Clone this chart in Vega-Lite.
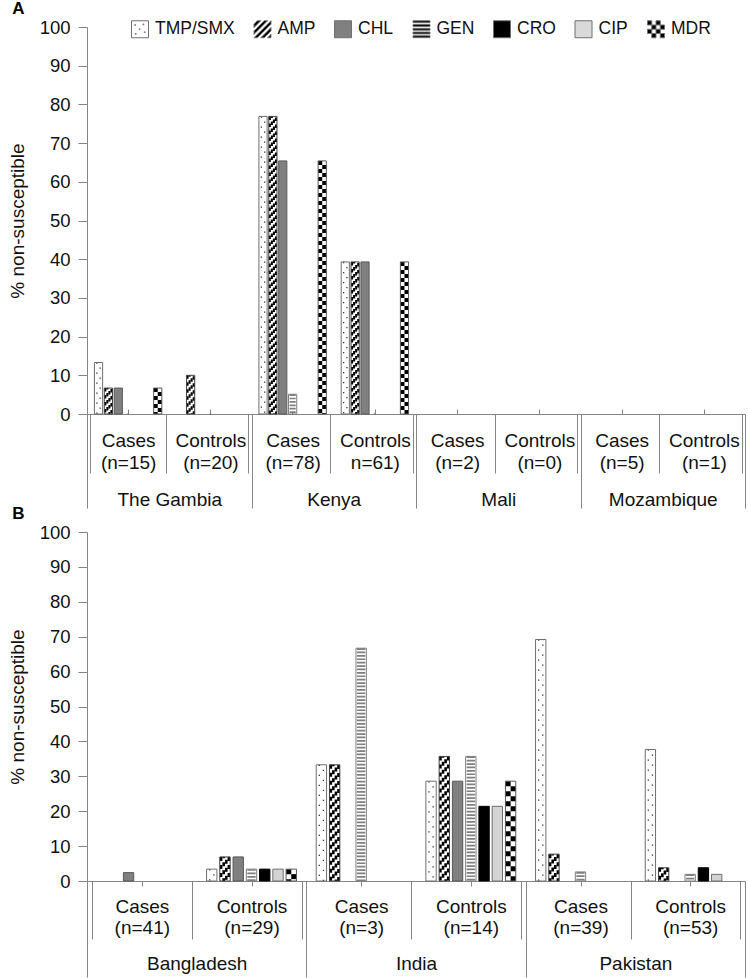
{
  "$schema": "https://vega.github.io/schema/vega-lite/v6.json",
  "padding": {"left": 8, "top": 0, "right": 0, "bottom": 0},
  "config": {"font": "Liberation Sans", "view": {"stroke": null}, "axis": {"grid": false, "labelColor": "#111111", "titleColor": "#111111"}},
  "spacing": -4,
  "datasets": {
    "a": [
      {"country": "The Gambia", "group": "Cases|(n=15)", "ab": "TMP/SMX", "pct": 13.3},
      {"country": "The Gambia", "group": "Cases|(n=15)", "ab": "AMP", "pct": 6.7},
      {"country": "The Gambia", "group": "Cases|(n=15)", "ab": "CHL", "pct": 6.7},
      {"country": "The Gambia", "group": "Cases|(n=15)", "ab": "GEN", "pct": 0},
      {"country": "The Gambia", "group": "Cases|(n=15)", "ab": "CRO", "pct": 0},
      {"country": "The Gambia", "group": "Cases|(n=15)", "ab": "CIP", "pct": 0},
      {"country": "The Gambia", "group": "Cases|(n=15)", "ab": "MDR", "pct": 6.7},
      {"country": "The Gambia", "group": "Controls|(n=20)", "ab": "TMP/SMX", "pct": 0},
      {"country": "The Gambia", "group": "Controls|(n=20)", "ab": "AMP", "pct": 10},
      {"country": "The Gambia", "group": "Controls|(n=20)", "ab": "CHL", "pct": 0},
      {"country": "The Gambia", "group": "Controls|(n=20)", "ab": "GEN", "pct": 0},
      {"country": "The Gambia", "group": "Controls|(n=20)", "ab": "CRO", "pct": 0},
      {"country": "The Gambia", "group": "Controls|(n=20)", "ab": "CIP", "pct": 0},
      {"country": "The Gambia", "group": "Controls|(n=20)", "ab": "MDR", "pct": 0},
      {"country": "Kenya", "group": "Cases|(n=78)", "ab": "TMP/SMX", "pct": 76.9},
      {"country": "Kenya", "group": "Cases|(n=78)", "ab": "AMP", "pct": 76.9},
      {"country": "Kenya", "group": "Cases|(n=78)", "ab": "CHL", "pct": 65.4},
      {"country": "Kenya", "group": "Cases|(n=78)", "ab": "GEN", "pct": 5.1},
      {"country": "Kenya", "group": "Cases|(n=78)", "ab": "CRO", "pct": 0},
      {"country": "Kenya", "group": "Cases|(n=78)", "ab": "CIP", "pct": 0},
      {"country": "Kenya", "group": "Cases|(n=78)", "ab": "MDR", "pct": 65.4},
      {"country": "Kenya", "group": "Controls|n=61)", "ab": "TMP/SMX", "pct": 39.3},
      {"country": "Kenya", "group": "Controls|n=61)", "ab": "AMP", "pct": 39.3},
      {"country": "Kenya", "group": "Controls|n=61)", "ab": "CHL", "pct": 39.3},
      {"country": "Kenya", "group": "Controls|n=61)", "ab": "GEN", "pct": 0},
      {"country": "Kenya", "group": "Controls|n=61)", "ab": "CRO", "pct": 0},
      {"country": "Kenya", "group": "Controls|n=61)", "ab": "CIP", "pct": 0},
      {"country": "Kenya", "group": "Controls|n=61)", "ab": "MDR", "pct": 39.3},
      {"country": "Mali", "group": "Cases|(n=2)", "ab": "TMP/SMX", "pct": 0},
      {"country": "Mali", "group": "Cases|(n=2)", "ab": "AMP", "pct": 0},
      {"country": "Mali", "group": "Cases|(n=2)", "ab": "CHL", "pct": 0},
      {"country": "Mali", "group": "Cases|(n=2)", "ab": "GEN", "pct": 0},
      {"country": "Mali", "group": "Cases|(n=2)", "ab": "CRO", "pct": 0},
      {"country": "Mali", "group": "Cases|(n=2)", "ab": "CIP", "pct": 0},
      {"country": "Mali", "group": "Cases|(n=2)", "ab": "MDR", "pct": 0},
      {"country": "Mali", "group": "Controls|(n=0)", "ab": "TMP/SMX", "pct": 0},
      {"country": "Mali", "group": "Controls|(n=0)", "ab": "AMP", "pct": 0},
      {"country": "Mali", "group": "Controls|(n=0)", "ab": "CHL", "pct": 0},
      {"country": "Mali", "group": "Controls|(n=0)", "ab": "GEN", "pct": 0},
      {"country": "Mali", "group": "Controls|(n=0)", "ab": "CRO", "pct": 0},
      {"country": "Mali", "group": "Controls|(n=0)", "ab": "CIP", "pct": 0},
      {"country": "Mali", "group": "Controls|(n=0)", "ab": "MDR", "pct": 0},
      {"country": "Mozambique", "group": "Cases|(n=5)", "ab": "TMP/SMX", "pct": 0},
      {"country": "Mozambique", "group": "Cases|(n=5)", "ab": "AMP", "pct": 0},
      {"country": "Mozambique", "group": "Cases|(n=5)", "ab": "CHL", "pct": 0},
      {"country": "Mozambique", "group": "Cases|(n=5)", "ab": "GEN", "pct": 0},
      {"country": "Mozambique", "group": "Cases|(n=5)", "ab": "CRO", "pct": 0},
      {"country": "Mozambique", "group": "Cases|(n=5)", "ab": "CIP", "pct": 0},
      {"country": "Mozambique", "group": "Cases|(n=5)", "ab": "MDR", "pct": 0},
      {"country": "Mozambique", "group": "Controls|(n=1)", "ab": "TMP/SMX", "pct": 0},
      {"country": "Mozambique", "group": "Controls|(n=1)", "ab": "AMP", "pct": 0},
      {"country": "Mozambique", "group": "Controls|(n=1)", "ab": "CHL", "pct": 0},
      {"country": "Mozambique", "group": "Controls|(n=1)", "ab": "GEN", "pct": 0},
      {"country": "Mozambique", "group": "Controls|(n=1)", "ab": "CRO", "pct": 0},
      {"country": "Mozambique", "group": "Controls|(n=1)", "ab": "CIP", "pct": 0},
      {"country": "Mozambique", "group": "Controls|(n=1)", "ab": "MDR", "pct": 0}
    ],
    "b": [
      {"country": "Bangladesh", "group": "Cases|(n=41)", "ab": "TMP/SMX", "pct": 0},
      {"country": "Bangladesh", "group": "Cases|(n=41)", "ab": "AMP", "pct": 0},
      {"country": "Bangladesh", "group": "Cases|(n=41)", "ab": "CHL", "pct": 2.4},
      {"country": "Bangladesh", "group": "Cases|(n=41)", "ab": "GEN", "pct": 0},
      {"country": "Bangladesh", "group": "Cases|(n=41)", "ab": "CRO", "pct": 0},
      {"country": "Bangladesh", "group": "Cases|(n=41)", "ab": "CIP", "pct": 0},
      {"country": "Bangladesh", "group": "Cases|(n=41)", "ab": "MDR", "pct": 0},
      {"country": "Bangladesh", "group": "Controls|(n=29)", "ab": "TMP/SMX", "pct": 3.4},
      {"country": "Bangladesh", "group": "Controls|(n=29)", "ab": "AMP", "pct": 6.9},
      {"country": "Bangladesh", "group": "Controls|(n=29)", "ab": "CHL", "pct": 6.9},
      {"country": "Bangladesh", "group": "Controls|(n=29)", "ab": "GEN", "pct": 3.4},
      {"country": "Bangladesh", "group": "Controls|(n=29)", "ab": "CRO", "pct": 3.4},
      {"country": "Bangladesh", "group": "Controls|(n=29)", "ab": "CIP", "pct": 3.4},
      {"country": "Bangladesh", "group": "Controls|(n=29)", "ab": "MDR", "pct": 3.4},
      {"country": "India", "group": "Cases|(n=3)", "ab": "TMP/SMX", "pct": 33.3},
      {"country": "India", "group": "Cases|(n=3)", "ab": "AMP", "pct": 33.3},
      {"country": "India", "group": "Cases|(n=3)", "ab": "CHL", "pct": 0},
      {"country": "India", "group": "Cases|(n=3)", "ab": "GEN", "pct": 66.7},
      {"country": "India", "group": "Cases|(n=3)", "ab": "CRO", "pct": 0},
      {"country": "India", "group": "Cases|(n=3)", "ab": "CIP", "pct": 0},
      {"country": "India", "group": "Cases|(n=3)", "ab": "MDR", "pct": 0},
      {"country": "India", "group": "Controls|(n=14)", "ab": "TMP/SMX", "pct": 28.6},
      {"country": "India", "group": "Controls|(n=14)", "ab": "AMP", "pct": 35.7},
      {"country": "India", "group": "Controls|(n=14)", "ab": "CHL", "pct": 28.6},
      {"country": "India", "group": "Controls|(n=14)", "ab": "GEN", "pct": 35.7},
      {"country": "India", "group": "Controls|(n=14)", "ab": "CRO", "pct": 21.4},
      {"country": "India", "group": "Controls|(n=14)", "ab": "CIP", "pct": 21.4},
      {"country": "India", "group": "Controls|(n=14)", "ab": "MDR", "pct": 28.6},
      {"country": "Pakistan", "group": "Cases|(n=39)", "ab": "TMP/SMX", "pct": 69.2},
      {"country": "Pakistan", "group": "Cases|(n=39)", "ab": "AMP", "pct": 7.7},
      {"country": "Pakistan", "group": "Cases|(n=39)", "ab": "CHL", "pct": 0},
      {"country": "Pakistan", "group": "Cases|(n=39)", "ab": "GEN", "pct": 2.6},
      {"country": "Pakistan", "group": "Cases|(n=39)", "ab": "CRO", "pct": 0},
      {"country": "Pakistan", "group": "Cases|(n=39)", "ab": "CIP", "pct": 0},
      {"country": "Pakistan", "group": "Cases|(n=39)", "ab": "MDR", "pct": 0},
      {"country": "Pakistan", "group": "Controls|(n=53)", "ab": "TMP/SMX", "pct": 37.7},
      {"country": "Pakistan", "group": "Controls|(n=53)", "ab": "AMP", "pct": 3.8},
      {"country": "Pakistan", "group": "Controls|(n=53)", "ab": "CHL", "pct": 0},
      {"country": "Pakistan", "group": "Controls|(n=53)", "ab": "GEN", "pct": 1.9},
      {"country": "Pakistan", "group": "Controls|(n=53)", "ab": "CRO", "pct": 3.8},
      {"country": "Pakistan", "group": "Controls|(n=53)", "ab": "CIP", "pct": 1.9},
      {"country": "Pakistan", "group": "Controls|(n=53)", "ab": "MDR", "pct": 0}
    ]
  },
  "vconcat": [
    {
      "title": {"text": "A", "anchor": "start", "frame": "bounds", "fontSize": 17, "fontWeight": "bold", "offset": 0, "dx": 4, "color": "#000000"},
      "data": {"name": "a"},
      "transform": [{"filter": "datum.pct > 0"}],
      "width": 658,
      "height": 387,
      "encoding": {
        "x": {"field": "group", "type": "nominal", "title": null, "axis": null,
          "scale": {"domain": ["Cases|(n=15)", "Controls|(n=20)", "Cases|(n=78)", "Controls|n=61)", "Cases|(n=2)", "Controls|(n=0)", "Cases|(n=5)", "Controls|(n=1)"], "paddingInner": 0.0845, "paddingOuter": 0.04225}},
        "y": {"field": "pct", "type": "quantitative", "title": "% non-susceptible",
          "scale": {"domain": [0, 100], "nice": false},
          "axis": {"values": [0, 10, 20, 30, 40, 50, 60, 70, 80, 90, 100], "tickSize": 9, "labelPadding": 8, "labelFontSize": 18.5, "titleFontSize": 19, "titleFontWeight": "normal", "titlePadding": 12, "domainColor": "#868686", "tickColor": "#868686"}}
      },
      "layer": [
        {"mark": {"type": "bar"},
         "encoding": {
           "x": {"field": "group", "type": "nominal", "title": null,
             "scale": {"domain": ["Cases|(n=15)", "Controls|(n=20)", "Cases|(n=78)", "Controls|n=61)", "Cases|(n=2)", "Controls|(n=0)", "Cases|(n=5)", "Controls|(n=1)"], "paddingInner": 0.0845, "paddingOuter": 0.04225},
             "axis": {"orient": "bottom", "tickBand": "extent", "tickSize": 59, "tickColor": "#868686", "domainColor": "#868686", "labelPadding": -27, "labelExpr": "split(datum.label, '|')", "labelBaseline": "alphabetic", "labelLineHeight": 22, "labelFontSize": 19, "labelAngle": 0, "labelOverlap": false}},
           "xOffset": {"field": "ab", "type": "nominal", "scale": {"domain": ["TMP/SMX", "AMP", "CHL", "GEN", "CRO", "CIP", "MDR"], "paddingInner": 0.17, "paddingOuter": 0.4, "align": 0.5}},
           "fill": {"field": "ab", "type": "nominal", "scale": {"domain": ["MDR", "CIP", "CRO", "GEN", "CHL", "AMP", "TMP/SMX"], "range": ["#ffffff", "#d4d4d4", "#000000", "#ffffff", "#808080", "#ffffff", "#ffffff"]}, "legend": null}}},
        {"transform": [{"filter": "datum.ab == 'TMP/SMX'"}],
         "mark": {"type": "rule", "color": "#333333", "strokeWidth": 1.3, "strokeDash": [1.3, 8.7]},
         "encoding": {"xOffset": {"field": "ab", "type": "nominal", "scale": {"domain": ["TMP/SMX", "AMP", "CHL", "GEN", "CRO", "CIP", "MDR"], "paddingInner": 0.17, "paddingOuter": 0.4, "align": 0.292}}, "y2": {"datum": 0}}},
        {"transform": [{"filter": "datum.ab == 'TMP/SMX'"}],
         "mark": {"type": "rule", "color": "#333333", "strokeWidth": 1.3, "strokeDash": [1.3, 8.7], "strokeDashOffset": 5},
         "encoding": {"xOffset": {"field": "ab", "type": "nominal", "scale": {"domain": ["TMP/SMX", "AMP", "CHL", "GEN", "CRO", "CIP", "MDR"], "paddingInner": 0.17, "paddingOuter": 0.4, "align": 0.708}}, "y2": {"datum": 0}}},
        {"transform": [{"filter": "datum.ab == 'GEN'"}],
         "mark": {"type": "rule", "color": "#7f7f7f", "strokeWidth": 6.2, "strokeDash": [1.7, 1.7]},
         "encoding": {"xOffset": {"field": "ab", "type": "nominal", "scale": {"domain": ["TMP/SMX", "AMP", "CHL", "GEN", "CRO", "CIP", "MDR"], "paddingInner": 0.17, "paddingOuter": 0.4, "align": 0.5}}, "y2": {"datum": 0}}},
        {"transform": [{"filter": "datum.ab == 'MDR'"}],
         "mark": {"type": "rule", "color": "#000000", "strokeWidth": 4.1, "strokeDash": [4, 4]},
         "encoding": {"xOffset": {"field": "ab", "type": "nominal", "scale": {"domain": ["TMP/SMX", "AMP", "CHL", "GEN", "CRO", "CIP", "MDR"], "paddingInner": 0.17, "paddingOuter": 0.4, "align": 0.24}}, "y2": {"datum": 0}}},
        {"transform": [{"filter": "datum.ab == 'MDR'"}],
         "mark": {"type": "rule", "color": "#000000", "strokeWidth": 4.1, "strokeDash": [4, 4], "strokeDashOffset": 4},
         "encoding": {"xOffset": {"field": "ab", "type": "nominal", "scale": {"domain": ["TMP/SMX", "AMP", "CHL", "GEN", "CRO", "CIP", "MDR"], "paddingInner": 0.17, "paddingOuter": 0.4, "align": 0.76}}, "y2": {"datum": 0}}},
        {"transform": [{"filter": "datum.ab == 'AMP'"}],
         "mark": {"type": "rule", "color": "#000000", "strokeWidth": 2.05, "strokeDash": [3.5, 3.5], "strokeDashOffset": 0},
         "encoding": {"xOffset": {"field": "ab", "type": "nominal", "scale": {"domain": ["TMP/SMX", "AMP", "CHL", "GEN", "CRO", "CIP", "MDR"], "paddingInner": 0.17, "paddingOuter": 0.4, "align": 0.111}}, "y2": {"datum": 0}}},
        {"transform": [{"filter": "datum.ab == 'AMP'"}],
         "mark": {"type": "rule", "color": "#000000", "strokeWidth": 2.05, "strokeDash": [3.5, 3.5], "strokeDashOffset": 2},
         "encoding": {"xOffset": {"field": "ab", "type": "nominal", "scale": {"domain": ["TMP/SMX", "AMP", "CHL", "GEN", "CRO", "CIP", "MDR"], "paddingInner": 0.17, "paddingOuter": 0.4, "align": 0.37}}, "y2": {"datum": 0}}},
        {"transform": [{"filter": "datum.ab == 'AMP'"}],
         "mark": {"type": "rule", "color": "#000000", "strokeWidth": 2.05, "strokeDash": [3.5, 3.5], "strokeDashOffset": 4},
         "encoding": {"xOffset": {"field": "ab", "type": "nominal", "scale": {"domain": ["TMP/SMX", "AMP", "CHL", "GEN", "CRO", "CIP", "MDR"], "paddingInner": 0.17, "paddingOuter": 0.4, "align": 0.63}}, "y2": {"datum": 0}}},
        {"transform": [{"filter": "datum.ab == 'AMP'"}],
         "mark": {"type": "rule", "color": "#000000", "strokeWidth": 2.05, "strokeDash": [3.5, 3.5], "strokeDashOffset": 6},
         "encoding": {"xOffset": {"field": "ab", "type": "nominal", "scale": {"domain": ["TMP/SMX", "AMP", "CHL", "GEN", "CRO", "CIP", "MDR"], "paddingInner": 0.17, "paddingOuter": 0.4, "align": 0.889}}, "y2": {"datum": 0}}},
        {"mark": {"type": "bar", "fillOpacity": 0, "strokeWidth": 1},
         "encoding": {
           "xOffset": {"field": "ab", "type": "nominal", "scale": {"domain": ["TMP/SMX", "AMP", "CHL", "GEN", "CRO", "CIP", "MDR"], "paddingInner": 0.17, "paddingOuter": 0.4, "align": 0.5}},
           "stroke": {"field": "ab", "type": "nominal", "scale": {"domain": ["CHL", "TMP/SMX", "AMP", "GEN", "CRO", "CIP", "MDR"], "range": ["#595959", "#6e6e6e", "#404040", "#7f7f7f", "#000000", "#6e6e6e", "#595959"]}, "legend": null}}},
        {"mark": {"type": "point", "filled": true, "size": 1, "opacity": 1},
         "encoding": {
           "y": {"datum": 0, "type": "quantitative"},
           "color": {"field": "ab", "type": "nominal", "title": null,
             "scale": {"domain": ["TMP/SMX", "AMP", "CHL", "GEN", "CRO", "CIP", "MDR"], "range": ["#ffffff", "#000000", "#808080", "#000000", "#000000", "#d9d9d9", "#000000"]},
             "legend": {"orient": "none", "legendX": 44, "legendY": -7, "direction": "horizontal", "columns": 7, "title": null, "labelFontSize": 17.5, "labelOffset": 6, "columnPadding": 16.5, "symbolSize": 289, "symbolStrokeWidth": 1, "symbolStrokeColor": "#707070", "labelColor": "#111111"}},
           "shape": {"field": "ab", "type": "nominal", "title": null,
             "scale": {"domain": ["TMP/SMX", "AMP", "CHL", "GEN", "CRO", "CIP", "MDR"], "range": [
               "M-1,-1H1V1H-1Z M-0.62,-0.55h0.1v0.1h-0.1Z M0.35,-0.62h0.1v0.1h-0.1Z M-0.1,-0.05h0.1v0.1h-0.1Z M0.5,0.3h0.1v0.1h-0.1Z M-0.55,0.5h0.1v0.1h-0.1Z",
               "M-1,-0.6L-0.6,-1L-0.2,-1L-1,-0.2Z M-1,0.2L0.2,-1L0.6,-1L-1,0.6Z M-1,1L1,-1L1,-0.6L-0.6,1Z M-0.2,1L1,-0.2L1,0.2L0.2,1Z M0.6,1L1,0.6L1,1Z",
               "M-1,-1H1V1H-1Z",
               "M-1,-1H1V-0.78H-1Z M-1,-0.56H1V-0.34H-1Z M-1,-0.12H1V0.1H-1Z M-1,0.32H1V0.54H-1Z M-1,0.76H1V0.98H-1Z",
               "M-1,-1H1V1H-1Z",
               "M-1,-1H1V1H-1Z",
               "M-1,-1h0.5v0.5h-0.5Z M0,-1h0.5v0.5h-0.5Z M-0.5,-0.5h0.5v0.5h-0.5Z M0.5,-0.5h0.5v0.5h-0.5Z M-1,0h0.5v0.5h-0.5Z M0,0h0.5v0.5h-0.5Z M-0.5,0.5h0.5v0.5h-0.5Z M0.5,0.5h0.5v0.5h-0.5Z"
             ]}}}},
        {"mark": {"type": "point", "opacity": 0},
         "encoding": {
           "x": {"field": "country", "type": "nominal", "title": null,
             "scale": {"domain": ["The Gambia", "Kenya", "Mali", "Mozambique"], "paddingInner": 0, "paddingOuter": 0},
             "axis": {"orient": "bottom", "tickBand": "extent", "tickSize": 94, "tickColor": "#868686", "domain": false, "labelPadding": -3, "labelBaseline": "alphabetic", "labelFontSize": 19, "labelAngle": 0, "labelOverlap": false}}}},
        {"mark": {"type": "point", "opacity": 0},
         "encoding": {
           "x": {"field": "group", "type": "nominal", "title": null,
             "scale": {"domain": ["Cases|(n=15)", "Controls|(n=20)", "Cases|(n=78)", "Controls|n=61)", "Cases|(n=2)", "Controls|(n=0)", "Cases|(n=5)", "Controls|(n=1)"]},
             "axis": {"orient": "bottom", "tickSize": -5, "tickColor": "#868686", "domain": false, "labels": false}}}}
      ],
      "resolve": {"scale": {"x": "independent", "xOffset": "independent"}, "axis": {"x": "independent"}}
    },
    {
      "title": {"text": "B", "anchor": "start", "frame": "bounds", "fontSize": 17, "fontWeight": "bold", "offset": 0, "dx": 4, "color": "#000000"},
      "data": {"name": "b"},
      "transform": [{"filter": "datum.pct > 0"}],
      "width": 658,
      "height": 349,
      "encoding": {
        "x": {"field": "group", "type": "nominal", "title": null, "axis": null,
          "scale": {"domain": ["Cases|(n=41)", "Controls|(n=29)", "Cases|(n=3)", "Controls|(n=14)", "Cases|(n=39)", "Controls|(n=53)"], "paddingInner": 0.0836, "paddingOuter": 0.0418}},
        "y": {"field": "pct", "type": "quantitative", "title": "% non-susceptible",
          "scale": {"domain": [0, 100], "nice": false},
          "axis": {"values": [0, 10, 20, 30, 40, 50, 60, 70, 80, 90, 100], "tickSize": 9, "labelPadding": 8, "labelFontSize": 18.5, "titleFontSize": 19, "titleFontWeight": "normal", "titlePadding": 12, "domainColor": "#868686", "tickColor": "#868686"}}
      },
      "layer": [
        {"mark": {"type": "bar"},
         "encoding": {
           "x": {"field": "group", "type": "nominal", "title": null,
             "scale": {"domain": ["Cases|(n=41)", "Controls|(n=29)", "Cases|(n=3)", "Controls|(n=14)", "Cases|(n=39)", "Controls|(n=53)"], "paddingInner": 0.0836, "paddingOuter": 0.0418},
             "axis": {"orient": "bottom", "tickBand": "extent", "tickSize": 58, "tickColor": "#868686", "domainColor": "#868686", "labelPadding": -27, "labelExpr": "split(datum.label, '|')", "labelBaseline": "alphabetic", "labelLineHeight": 21, "labelFontSize": 19, "labelAngle": 0, "labelOverlap": false}},
           "xOffset": {"field": "ab", "type": "nominal", "scale": {"domain": ["TMP/SMX", "AMP", "CHL", "GEN", "CRO", "CIP", "MDR"], "paddingInner": 0.22, "paddingOuter": 0.4, "align": 0.5}},
           "fill": {"field": "ab", "type": "nominal", "scale": {"domain": ["MDR", "CIP", "CRO", "GEN", "CHL", "AMP", "TMP/SMX"], "range": ["#ffffff", "#d4d4d4", "#000000", "#ffffff", "#808080", "#ffffff", "#ffffff"]}, "legend": null}}},
        {"transform": [{"filter": "datum.ab == 'TMP/SMX'"}],
         "mark": {"type": "rule", "color": "#333333", "strokeWidth": 1.3, "strokeDash": [1.3, 8.7]},
         "encoding": {"xOffset": {"field": "ab", "type": "nominal", "scale": {"domain": ["TMP/SMX", "AMP", "CHL", "GEN", "CRO", "CIP", "MDR"], "paddingInner": 0.22, "paddingOuter": 0.4, "align": 0.305}}, "y2": {"datum": 0}}},
        {"transform": [{"filter": "datum.ab == 'TMP/SMX'"}],
         "mark": {"type": "rule", "color": "#333333", "strokeWidth": 1.3, "strokeDash": [1.3, 8.7], "strokeDashOffset": 5},
         "encoding": {"xOffset": {"field": "ab", "type": "nominal", "scale": {"domain": ["TMP/SMX", "AMP", "CHL", "GEN", "CRO", "CIP", "MDR"], "paddingInner": 0.22, "paddingOuter": 0.4, "align": 0.695}}, "y2": {"datum": 0}}},
        {"transform": [{"filter": "datum.ab == 'GEN'"}],
         "mark": {"type": "rule", "color": "#7f7f7f", "strokeWidth": 8.3, "strokeDash": [1.7, 1.7]},
         "encoding": {"xOffset": {"field": "ab", "type": "nominal", "scale": {"domain": ["TMP/SMX", "AMP", "CHL", "GEN", "CRO", "CIP", "MDR"], "paddingInner": 0.22, "paddingOuter": 0.4, "align": 0.5}}, "y2": {"datum": 0}}},
        {"transform": [{"filter": "datum.ab == 'MDR'"}],
         "mark": {"type": "rule", "color": "#000000", "strokeWidth": 5.2, "strokeDash": [5, 5]},
         "encoding": {"xOffset": {"field": "ab", "type": "nominal", "scale": {"domain": ["TMP/SMX", "AMP", "CHL", "GEN", "CRO", "CIP", "MDR"], "paddingInner": 0.22, "paddingOuter": 0.4, "align": 0.256}}, "y2": {"datum": 0}}},
        {"transform": [{"filter": "datum.ab == 'MDR'"}],
         "mark": {"type": "rule", "color": "#000000", "strokeWidth": 5.2, "strokeDash": [5, 5], "strokeDashOffset": 5},
         "encoding": {"xOffset": {"field": "ab", "type": "nominal", "scale": {"domain": ["TMP/SMX", "AMP", "CHL", "GEN", "CRO", "CIP", "MDR"], "paddingInner": 0.22, "paddingOuter": 0.4, "align": 0.744}}, "y2": {"datum": 0}}},
        {"transform": [{"filter": "datum.ab == 'AMP'"}],
         "mark": {"type": "rule", "color": "#000000", "strokeWidth": 2.6, "strokeDash": [4, 4], "strokeDashOffset": 0},
         "encoding": {"xOffset": {"field": "ab", "type": "nominal", "scale": {"domain": ["TMP/SMX", "AMP", "CHL", "GEN", "CRO", "CIP", "MDR"], "paddingInner": 0.22, "paddingOuter": 0.4, "align": 0.134}}, "y2": {"datum": 0}}},
        {"transform": [{"filter": "datum.ab == 'AMP'"}],
         "mark": {"type": "rule", "color": "#000000", "strokeWidth": 2.6, "strokeDash": [4, 4], "strokeDashOffset": 2.6},
         "encoding": {"xOffset": {"field": "ab", "type": "nominal", "scale": {"domain": ["TMP/SMX", "AMP", "CHL", "GEN", "CRO", "CIP", "MDR"], "paddingInner": 0.22, "paddingOuter": 0.4, "align": 0.378}}, "y2": {"datum": 0}}},
        {"transform": [{"filter": "datum.ab == 'AMP'"}],
         "mark": {"type": "rule", "color": "#000000", "strokeWidth": 2.6, "strokeDash": [4, 4], "strokeDashOffset": 5.2},
         "encoding": {"xOffset": {"field": "ab", "type": "nominal", "scale": {"domain": ["TMP/SMX", "AMP", "CHL", "GEN", "CRO", "CIP", "MDR"], "paddingInner": 0.22, "paddingOuter": 0.4, "align": 0.622}}, "y2": {"datum": 0}}},
        {"transform": [{"filter": "datum.ab == 'AMP'"}],
         "mark": {"type": "rule", "color": "#000000", "strokeWidth": 2.6, "strokeDash": [4, 4], "strokeDashOffset": 7.8},
         "encoding": {"xOffset": {"field": "ab", "type": "nominal", "scale": {"domain": ["TMP/SMX", "AMP", "CHL", "GEN", "CRO", "CIP", "MDR"], "paddingInner": 0.22, "paddingOuter": 0.4, "align": 0.866}}, "y2": {"datum": 0}}},
        {"mark": {"type": "bar", "fillOpacity": 0, "strokeWidth": 1},
         "encoding": {
           "xOffset": {"field": "ab", "type": "nominal", "scale": {"domain": ["TMP/SMX", "AMP", "CHL", "GEN", "CRO", "CIP", "MDR"], "paddingInner": 0.22, "paddingOuter": 0.4, "align": 0.5}},
           "stroke": {"field": "ab", "type": "nominal", "scale": {"domain": ["CHL", "TMP/SMX", "AMP", "GEN", "CRO", "CIP", "MDR"], "range": ["#595959", "#6e6e6e", "#404040", "#7f7f7f", "#000000", "#6e6e6e", "#595959"]}, "legend": null}}},
        {"mark": {"type": "point", "opacity": 0},
         "encoding": {
           "x": {"field": "country", "type": "nominal", "title": null,
             "scale": {"domain": ["Bangladesh", "India", "Pakistan"], "paddingInner": 0, "paddingOuter": 0},
             "axis": {"orient": "bottom", "tickBand": "extent", "tickSize": 96, "tickColor": "#868686", "domain": false, "labelPadding": -8, "labelBaseline": "alphabetic", "labelFontSize": 19, "labelAngle": 0, "labelOverlap": false}}}},
        {"mark": {"type": "point", "opacity": 0},
         "encoding": {
           "x": {"field": "group", "type": "nominal", "title": null,
             "scale": {"domain": ["Cases|(n=41)", "Controls|(n=29)", "Cases|(n=3)", "Controls|(n=14)", "Cases|(n=39)", "Controls|(n=53)"]},
             "axis": {"orient": "bottom", "tickSize": 5, "tickColor": "#868686", "domain": false, "labels": false}}}}
      ],
      "resolve": {"scale": {"x": "independent", "xOffset": "independent"}, "axis": {"x": "independent"}}
    }
  ]
}
